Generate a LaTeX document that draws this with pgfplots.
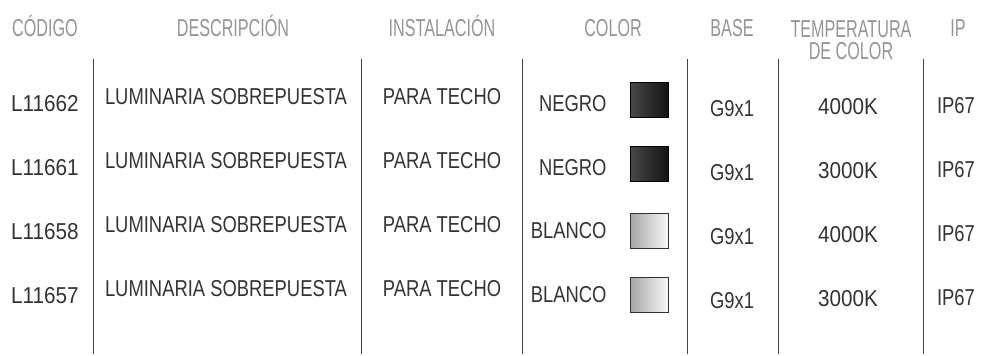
\documentclass[border=0pt]{standalone}
\usepackage{pgfplots}
\pgfplotsset{compat=1.18}
\usepackage{fontspec}
\setmainfont{Liberation Sans}
\newfontfamily\hdrfont{Liberation Sans}[FakeStretch=0.66]
\newfontfamily\bodyfont{Liberation Sans}[FakeStretch=0.80]
\newfontfamily\numfont{Liberation Sans}[FakeStretch=0.90]
\definecolor{txt}{HTML}{333333}
\definecolor{hdr}{HTML}{959595}
\definecolor{rule}{HTML}{444444}
\newcommand\Hd[1]{{\fontsize{24.5bp}{26bp}\selectfont\hdrfont #1}}
\newcommand\Bd[1]{{\fontsize{23bp}{26bp}\selectfont\bodyfont #1}}
\newcommand\Nm[1]{{\fontsize{23bp}{26bp}\selectfont\numfont #1}}
\begin{document}
\begin{tikzpicture}
\begin{axis}[
  width=984bp, height=356bp, scale only axis,
  xmin=0, xmax=984, ymin=0, ymax=356, y dir=reverse,
  hide axis, clip=false,
  every node/.append style={inner sep=0pt, outer sep=0pt}]
% vertical separators
\addplot[rule, line width=0.9bp] coordinates {(93,59) (93,354)};
\addplot[rule, line width=0.9bp] coordinates {(361,59) (361,354)};
\addplot[rule, line width=0.9bp] coordinates {(522,59) (522,354)};
\addplot[rule, line width=0.9bp] coordinates {(687,59) (687,354)};
\addplot[rule, line width=0.9bp] coordinates {(778,59) (778,354)};
\addplot[rule, line width=0.9bp] coordinates {(923,59) (923,354)};
% colour swatches
\addplot[draw=black, line width=0.8bp, left color=black!72, right color=black!92] coordinates {(630,82.5) (668,82.5) (668,117.5) (630,117.5)} -- cycle;
\addplot[draw=black, line width=0.8bp, left color=black!72, right color=black!92] coordinates {(630,146.5) (668,146.5) (668,181.5) (630,181.5)} -- cycle;
\addplot[draw=black!80, line width=0.8bp, left color=black!35, right color=black!3] coordinates {(630,213) (668,213) (668,248) (630,248)} -- cycle;
\addplot[draw=black!80, line width=0.8bp, left color=black!35, right color=black!3] coordinates {(630,277) (668,277) (668,312) (630,312)} -- cycle;
% headers
\node[anchor=base, text=hdr] at (axis cs:45,36) {\Hd{CÓDIGO}};
\node[anchor=base, text=hdr] at (axis cs:233,36) {\Hd{DESCRIPCIÓN}};
\node[anchor=base, text=hdr] at (axis cs:442,36) {\Hd{INSTALACIÓN}};
\node[anchor=base, text=hdr] at (axis cs:613,36) {\Hd{COLOR}};
\node[anchor=base, text=hdr] at (axis cs:732,36) {\Hd{BASE}};
\node[anchor=north, text=hdr, align=center, font={\fontsize{24.5bp}{21.5bp}\selectfont\hdrfont}] at (axis cs:851,17.5) {TEMPERATURA\\DE COLOR};
\node[anchor=base, text=hdr] at (axis cs:958,36) {\Hd{IP}};
% row 1  (r = 103)
\node[anchor=base, text=txt] at (axis cs:45,111.25) {\Nm{L11662}};
\node[anchor=base, text=txt] at (axis cs:226,104.25) {\Bd{LUMINARIA SOBREPUESTA}};
\node[anchor=base, text=txt] at (axis cs:442,104.25) {\Bd{PARA TECHO}};
\node[anchor=base east, text=txt] at (axis cs:610,111.25) {\Bd{NEGRO}};
\node[anchor=base, text=txt] at (axis cs:732,116.25) {\Bd{G9x1}};
\node[anchor=base, text=txt] at (axis cs:848,114.25) {\Nm{4000K}};
\node[anchor=base, text=txt] at (axis cs:956,113.25) {\Bd{IP67}};
% row 2  (r = 167)
\node[anchor=base, text=txt] at (axis cs:45,175.25) {\Nm{L11661}};
\node[anchor=base, text=txt] at (axis cs:226,168.25) {\Bd{LUMINARIA SOBREPUESTA}};
\node[anchor=base, text=txt] at (axis cs:442,168.25) {\Bd{PARA TECHO}};
\node[anchor=base east, text=txt] at (axis cs:610,175.25) {\Bd{NEGRO}};
\node[anchor=base, text=txt] at (axis cs:732,180.25) {\Bd{G9x1}};
\node[anchor=base, text=txt] at (axis cs:848,178.25) {\Nm{3000K}};
\node[anchor=base, text=txt] at (axis cs:956,177.25) {\Bd{IP67}};
% row 3  (r = 231)
\node[anchor=base, text=txt] at (axis cs:45,239.25) {\Nm{L11658}};
\node[anchor=base, text=txt] at (axis cs:226,232.25) {\Bd{LUMINARIA SOBREPUESTA}};
\node[anchor=base, text=txt] at (axis cs:442,232.25) {\Bd{PARA TECHO}};
\node[anchor=base east, text=txt] at (axis cs:610,238.75) {\Bd{BLANCO}};
\node[anchor=base, text=txt] at (axis cs:732,244.25) {\Bd{G9x1}};
\node[anchor=base, text=txt] at (axis cs:848,242.25) {\Nm{4000K}};
\node[anchor=base, text=txt] at (axis cs:956,241.25) {\Bd{IP67}};
% row 4  (r = 295)
\node[anchor=base, text=txt] at (axis cs:45,303.25) {\Nm{L11657}};
\node[anchor=base, text=txt] at (axis cs:226,296.25) {\Bd{LUMINARIA SOBREPUESTA}};
\node[anchor=base, text=txt] at (axis cs:442,296.25) {\Bd{PARA TECHO}};
\node[anchor=base east, text=txt] at (axis cs:610,302.75) {\Bd{BLANCO}};
\node[anchor=base, text=txt] at (axis cs:732,308.25) {\Bd{G9x1}};
\node[anchor=base, text=txt] at (axis cs:848,306.25) {\Nm{3000K}};
\node[anchor=base, text=txt] at (axis cs:956,305.25) {\Bd{IP67}};
\end{axis}
\pgfresetboundingbox
\useasboundingbox (current axis.south west) rectangle (current axis.north east);
\end{tikzpicture}
\end{document}
